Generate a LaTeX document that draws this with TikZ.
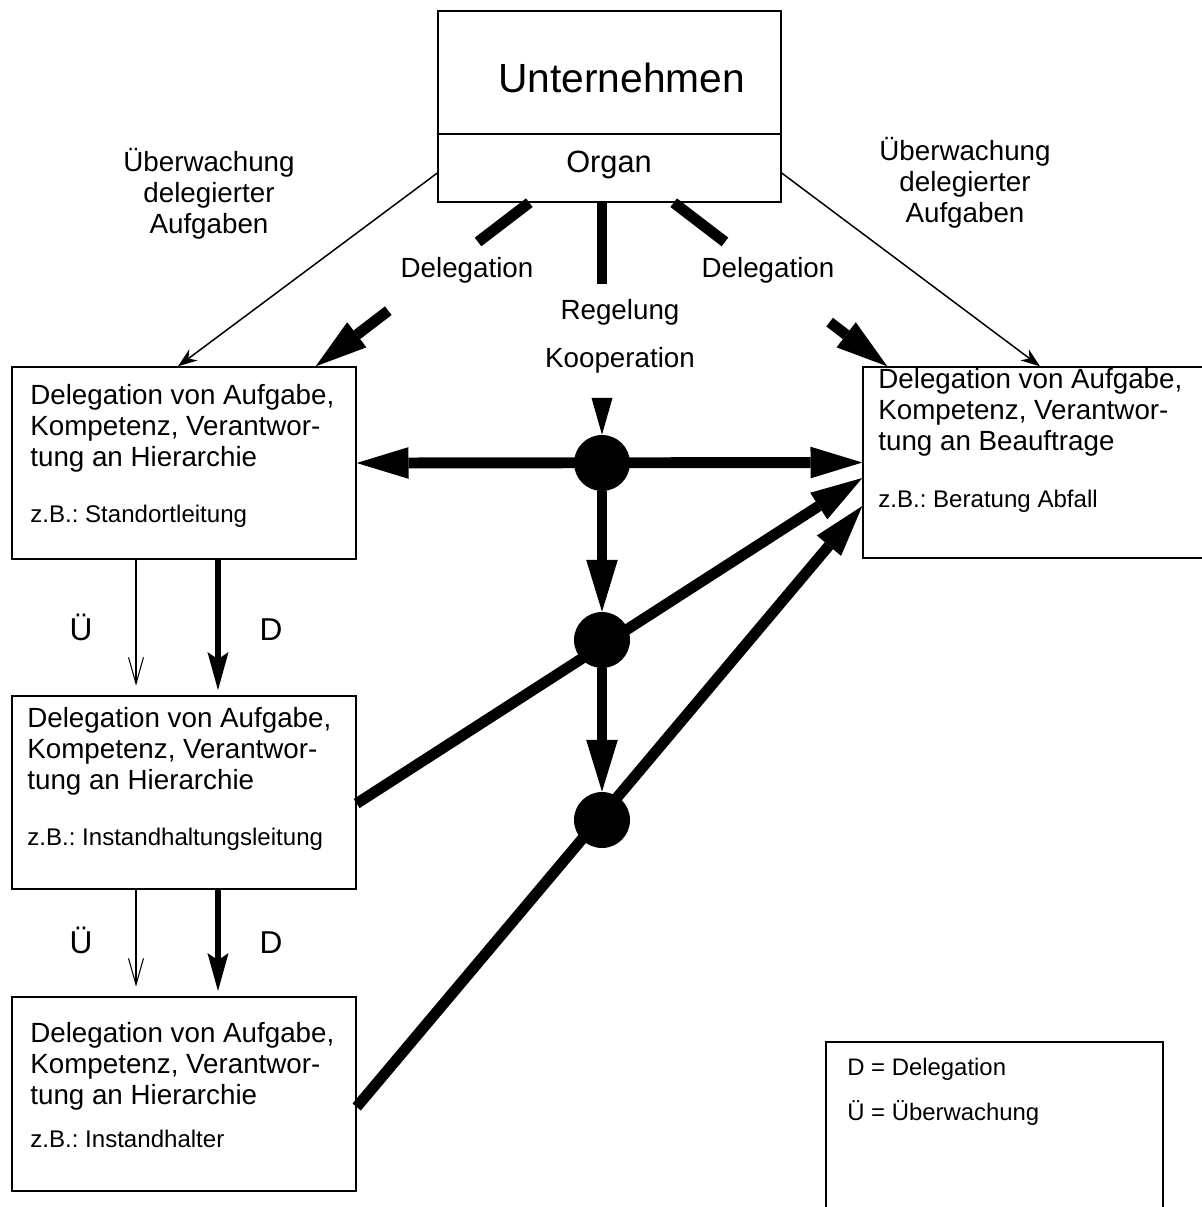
\documentclass[tikz,border=0pt]{standalone}
\usepackage{fontspec}
\setmainfont{Liberation Sans}
\frenchspacing
\usetikzlibrary{arrows.meta,calc}

\tikzset{
  box/.style={draw, line width=0.8pt, inner sep=0pt},
  boxtext/.style={align=left, inner sep=0pt, anchor=north west, font=\fontsize{15.8}{17.6}\selectfont},
  example/.style={inner sep=0pt, anchor=base west, font=\fontsize{13.7}{16}\selectfont},
  lbl/.style={inner sep=0pt, anchor=base, font=\fontsize{15.8}{17.6}\selectfont},
  dot/.style={circle, fill, inner sep=0pt, minimum size=1.12cm},
  strongarr/.style={line width=6.2pt, -{Triangle[length=29.5pt,width=18pt,line width=0pt]}},
  delegline/.style={line width=6.2pt},
  watcharr/.style={line width=0.85pt, -{Stealth[length=11pt,width=8pt,line width=0pt]}},
  uearr/.style={line width=0.6pt, -{Straight Barb[length=15pt,width=8.5pt]}, shorten >=5.5pt},
  darr/.style={line width=3.8pt, -{Stealth[length=21.6pt,width=12pt,inset=4pt,line width=0pt]}, shorten >=3pt}
}

\begin{document}
\begin{tikzpicture}[x=0.02cm, y=-0.02cm]
\useasboundingbox (0,0) rectangle (1202,1207);
\clip (0,0) rectangle (1202,1207);

% Unternehmen with its organ
\node[box, minimum width=6.86cm, minimum height=2.46cm] (firm) at (609.5,72.5) {};
\node[box, minimum width=6.86cm, minimum height=1.36cm] (organ) at (609.5,168) {};
\node[inner sep=0pt, anchor=base, font=\fontsize{23.2}{26}\selectfont] (firmtxt) at (621.5,92) {Unternehmen};
\node[inner sep=0pt, anchor=base, font=\fontsize{17.5}{20}\selectfont] (organtxt) at (609,172) {Organ};

% hierarchy boxes
\node[box, minimum width=6.88cm, minimum height=3.84cm] (hierA) at (184,463) {};
\node[box, minimum width=6.88cm, minimum height=3.86cm] (hierB) at (184,792.5) {};
\node[box, minimum width=6.88cm, minimum height=3.88cm] (hierC) at (184,1094) {};
\node[box, minimum width=6.82cm, minimum height=3.82cm] (beauf) at (1033.5,462.5) {};

\node[boxtext] (txtA) at (30,384) {Delegation von Aufgabe,\\Kompetenz, Verantwor-\\tung an Hierarchie};
\node[example] (exA) at (30,522) {z.B.: Standortleitung};
\node[boxtext] (txtB) at (27,707) {Delegation von Aufgabe,\\Kompetenz, Verantwor-\\tung an Hierarchie};
\node[example] (exB) at (27,845) {z.B.: Instandhaltungsleitung};
\node[boxtext] (txtC) at (30,1022) {Delegation von Aufgabe,\\Kompetenz, Verantwor-\\tung an Hierarchie};
\node[example] (exC) at (30,1147) {z.B.: Instandhalter};
\node[boxtext] (txtR) at (878,368) {Delegation von Aufgabe,\\Kompetenz, Verantwor-\\tung an Beauftrage};
\node[example] (exR) at (878,507) {z.B.: Beratung Abfall};

% legend
\node[box, minimum width=6.74cm, minimum height=3.96cm] (legend) at (994.5,1141) {};
\node[example, font=\fontsize{13.6}{16}\selectfont] (legD) at (847,1075) {D = Delegation};
\node[example, font=\fontsize{13.6}{16}\selectfont] (legU) at (847,1120) {Ü = Überwachung};

% labels
\node[lbl, align=center, anchor=north] (wl) at (209,148) {Überwachung\\delegierter\\Aufgaben};
\node[lbl, align=center, anchor=north] (wr) at (965,137) {Überwachung\\delegierter\\Aufgaben};
\node[lbl] (dl) at (467,277) {Delegation};
\node[lbl] (dr) at (768,277) {Delegation};
\node[lbl] (reg) at (620,319) {Regelung};
\node[lbl] (koop) at (620,367) {Kooperation};

% knots
\node[dot] (k1) at (602,463) {};
\node[dot] (k2) at (602,640) {};
\node[dot] (k3) at (602,820) {};

% supervision from the organ
\draw[watcharr] ([yshift=-0.1cm]organ.west) -- ([xshift=-0.12cm]hierA.north);
\draw[watcharr] ([yshift=-0.1cm]organ.east) -- ([xshift=0.13cm]beauf.north);

% delegation from the organ (broken by the labels)
\coordinate (dL0) at ([xshift=1.84cm]organ.south west);
\coordinate (dL1) at ([xshift=-0.82cm]hierA.north east);
\coordinate (dR0) at ([xshift=-2.16cm]organ.south east);
\coordinate (dR1) at ([xshift=0.5cm]beauf.north west);
\draw[delegline] (dL0) -- ($(dL0)!0.24!(dL1)$);
\draw[strongarr] ($(dL0)!0.66!(dL1)$) -- (dL1);
\draw[delegline] (dR0) -- ($(dR0)!0.24!(dR1)$);
\draw[strongarr] ($(dR0)!0.73!(dR1)$) -- (dR1);

% Regelung / Kooperation
\coordinate (kin) at (602,398);
\draw[line width=5.6pt] (k1 |- organ.south) -- ++(0,81);
\draw[line width=1pt, -{Triangle[length=21pt,width=12pt,line width=0pt]}] (kin) -- (k1);
\draw[strongarr, {Triangle[length=29.5pt,width=18pt,line width=0pt]}-{Triangle[length=29.5pt,width=18pt,line width=0pt]}] (hierA.east) -- (beauf.west);
\draw[strongarr] (k1) -- (k2);
\draw[strongarr] (k2) -- (k3);
\draw[strongarr] ([yshift=-0.22cm]hierB.east) -- ([yshift=-0.31cm]beauf.west);
\draw[strongarr] ([yshift=-0.26cm]hierC.east) -- ([yshift=-0.87cm]beauf.west);

% down the hierarchy
\draw[uearr] ([xshift=-0.96cm]hierA.south) -- ([xshift=-0.96cm]hierB.north);
\draw[darr] ([xshift=0.68cm]hierA.south) -- ([xshift=0.68cm]hierB.north);
\draw[uearr] ([xshift=-0.96cm]hierB.south) -- ([xshift=-0.96cm]hierC.north);
\draw[darr] ([xshift=0.68cm]hierB.south) -- ([xshift=0.68cm]hierC.north);
\node[lbl, font=\fontsize{18}{20}\selectfont] (u1) at (81,640) {Ü};
\node[lbl, font=\fontsize{18}{20}\selectfont] (d1) at (271,640) {D};
\node[lbl, font=\fontsize{18}{20}\selectfont] (u2) at (81,953) {Ü};
\node[lbl, font=\fontsize{18}{20}\selectfont] (d2) at (271,953) {D};
\end{tikzpicture}
\end{document}
